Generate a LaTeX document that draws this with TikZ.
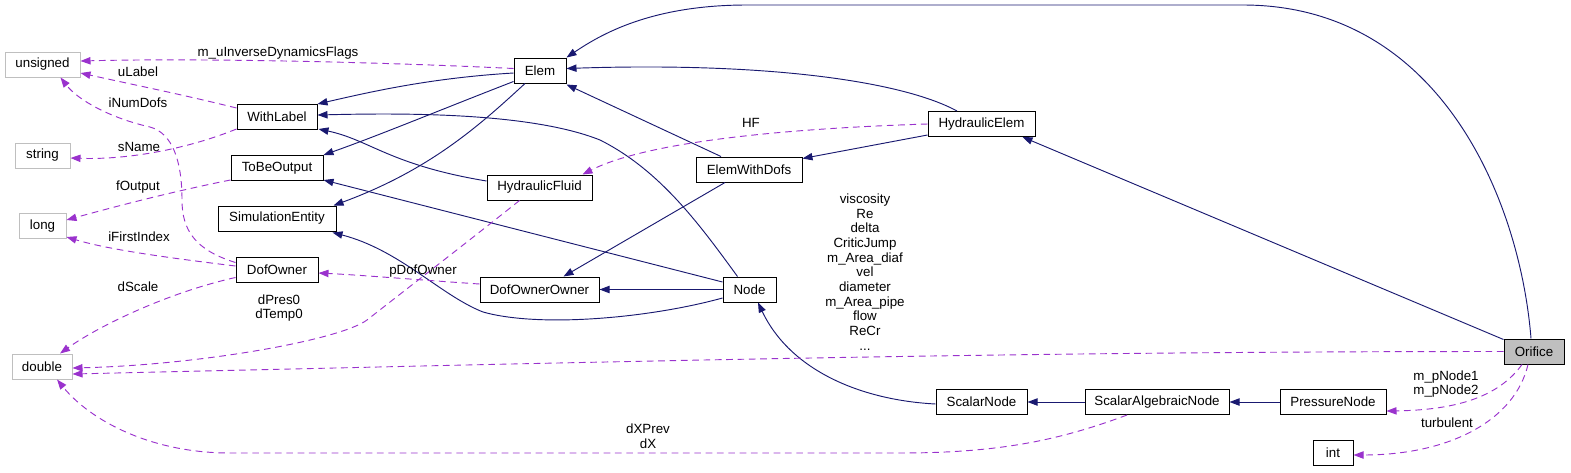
\documentclass[tikz,border=0pt]{standalone}
\usepackage{fontspec}
\setmainfont{Liberation Sans}
\usetikzlibrary{calc}
\usetikzlibrary{arrows.meta}
\definecolor{color_dox_inherit}{HTML}{191970}
\definecolor{color_dox_usage}{HTML}{9A32CD}
\definecolor{color_dox_builtin}{HTML}{BFBFBF}
\def\reservedspace{\useasboundingbox (0,0) rectangle (1571,472);}

\begin{document}
\begin{tikzpicture}[x=0.75pt, y=-0.75pt,
        font=\fontsize{10}{11}\selectfont,
        classbox/.style={rectangle, draw=black, line width=0.75pt, minimum height=18.75pt, inner xsep=2pt, inner ysep=0pt, fill=white},
        builtinbox/.style={classbox, draw=color_dox_builtin},
        inherit/.style={color_dox_inherit, line width=0.7pt, -{Triangle[length=7.5pt,width=5.5pt]}},
        usage/.style={color_dox_usage, line width=0.7pt, dash pattern=on 5pt off 3.5pt, -{Triangle[length=7.5pt,width=5.5pt]}},
        edgelabel/.style={align=center, inner sep=0pt}]
            \reservedspace
            % builtin types
            \node[builtinbox, minimum width=56.25pt] (unsigned) at (42.5,64.5) {unsigned};
            \node[builtinbox, minimum width=41.25pt] (string) at (42.5,155.5) {string};
            \node[builtinbox, minimum width=35.25pt] (long) at (42.5,226) {long};
            \node[builtinbox, minimum width=45pt] (double) at (42,366.5) {double};
            % classes
            \node[classbox, minimum width=60pt] (withlabel) at (277,117) {WithLabel};
            \node[classbox, minimum width=69pt] (tobeoutput) at (277,168) {ToBeOutput};
            \node[classbox, minimum width=88.5pt] (simentity) at (277,218.5) {SimulationEntity};
            \node[classbox, minimum width=61.5pt] (dofowner) at (277,269.5) {DofOwner};
            \node[classbox, minimum width=39pt] (elem) at (540,70.5) {Elem};
            \node[classbox, minimum width=78.75pt] (hydfluid) at (539.5,187.5) {HydraulicFluid};
            \node[classbox, minimum width=79.5pt] (elemdofs) at (749,169.5) {ElemWithDofs};
            \node[classbox, minimum width=89.25pt] (dofownerowner) at (539.5,289.5) {DofOwnerOwner};
            \node[classbox, minimum width=39.75pt] (nodeclass) at (749.5,289.5) {Node};
            \node[classbox, minimum width=80.25pt] (hydelem) at (981.5,124) {HydraulicElem};
            \node[classbox, minimum width=68.25pt] (scalarnode) at (981.5,402) {ScalarNode};
            \node[classbox, minimum width=108pt] (scalaralg) at (1157,402) {ScalarAlgebraicNode};
            \node[classbox, minimum width=79.5pt] (pressurenode) at (1333,402) {PressureNode};
            \node[classbox, minimum width=30pt] (inttype) at (1333,453) {int};
            \node[classbox, minimum width=45pt, fill=color_dox_builtin] (orifice) at (1534,351.5) {Orifice};
            % inheritance
            \draw[inherit] ($(elem.west)+(0,2.5)$) .. controls (430,78) and (370,92) .. (withlabel.north east);
            \draw[inherit] ($(elem.south west)+(0,-2)$) .. controls (440,110) and (380,135) .. (tobeoutput.north east);
            \draw[inherit] ($(elem.south)+(-15,0)$) .. controls (480,125) and (430,170) .. ($(simentity.north east)+(-3,0)$);
            \draw[inherit] ($(hydfluid.west)+(0,-6.5)$) .. controls (390,165) and (370,140) .. ($(withlabel.south east)+(1,-1)$);
            \draw[inherit] ($(nodeclass.north)+(-12,0)$) .. controls (700,225) and (660,170) .. (600,140)
                .. controls (530,112) and (400,113) .. ($(withlabel.east)+(0,-2)$);
            \draw[inherit] ($(nodeclass.west)+(0,-7.5)$) -- ($(tobeoutput.south east)+(0,-1)$);
            \draw[inherit] ($(nodeclass.west)+(0,8.5)$) .. controls (650,318) and (540,328) .. (483,312)
                .. controls (440,295) and (400,250) .. ($(simentity.south east)+(-4,1)$);
            \draw[inherit] (nodeclass.west) -- (dofownerowner.east);
            \draw[inherit] ($(elemdofs.north)+(-28,0)$) -- ($(elem.south east)+(0,1)$);
            \draw[inherit] ($(elemdofs.south)+(-24,0)$) -- ($(dofownerowner.north)+(24,0)$);
            \draw[inherit] ($(hydelem.north)+(-24.5,0)$) .. controls (900,80) and (760,62) .. ($(elem.east)+(0,-2)$);
            \draw[inherit] ($(hydelem.west)+(0,11)$) -- ($(elemdofs.east)+(0,-11)$);
            \draw[inherit] ($(orifice.north)+(-3,0)$) .. controls (1520,200) and (1440,5) .. (1243,5)
                -- (747,5) .. controls (650,5) and (600,35) .. (elem.north east);
            \draw[inherit] ($(orifice.north west)+(0,1)$) -- ($(hydelem.south east)+(-13,0)$);
            \draw[inherit] ($(scalarnode.west)+(0,2)$) .. controls (860,400) and (790,370) .. ($(nodeclass.south)+(8.5,0)$);
            \draw[inherit] (scalaralg.west) -- (scalarnode.east);
            \draw[inherit] (pressurenode.west) -- (scalaralg.east);
            % usage
            \draw[usage] ($(elem.west)+(0,-2)$) .. controls (380,62) and (200,58) .. ($(unsigned.east)+(0,-3.5)$);
            \draw[usage] ($(withlabel.north west)+(0,4)$) .. controls (180,94) and (130,84) .. ($(unsigned.east)+(0,8.5)$);
            \draw[usage] ($(withlabel.south west)+(0,-1)$) .. controls (190,148) and (130,160) .. ($(string.east)+(0,2.5)$);
            \draw[usage] ($(tobeoutput.south west)+(0,-1)$) .. controls (170,192) and (110,208) .. ($(long.east)+(0,-6)$);
            \draw[usage] ($(dofowner.west)+(0,-7)$) .. controls (195,250) and (182,230) .. (182,200)
                .. controls (182,160) and (172,133) .. (150,127)
                .. controls (110,118) and (78,100) .. ($(unsigned.south)+(18,0)$);
            \draw[usage] ($(dofowner.west)+(0,-3.5)$) .. controls (170,258) and (110,250) .. ($(long.east)+(0,11)$);
            \draw[usage] ($(dofowner.south west)+(0,-5)$) .. controls (170,292) and (100,325) .. ($(double.north)+(18,0)$);
            \draw[usage] ($(dofownerowner.west)+(0,-5.5)$) .. controls (420,280) and (360,275) .. ($(dofowner.east)+(0,3.5)$);
            \draw[usage] ($(hydfluid.south)+(-20,0)$) .. controls (470,240) and (395,298) .. (367,320)
                .. controls (340,340) and (200,365) .. ($(double.east)+(0,1.5)$);
            \draw[usage] (hydelem.west) .. controls (800,128) and (650,140) .. ($(hydfluid.north east)+(-10,0)$);
            \draw[usage] (orifice.west) .. controls (1000,351.5) and (600,362) .. ($(double.east)+(0,7.5)$);
            \draw[usage] ($(scalaralg.south)+(-30,0)$) .. controls (1060,440) and (1000,453) .. (900,453)
                -- (230,453) .. controls (150,453) and (90,420) .. ($(double.south)+(15,0)$);
            \draw[usage] ($(orifice.south)+(-12,0)$) .. controls (1500,395) and (1460,410) .. ($(pressurenode.east)+(0,9)$);
            \draw[usage] ($(orifice.south)+(-6,0)$) .. controls (1515,420) and (1450,455) .. ($(inttype.east)+(0,2)$);
            % member names
            \node[edgelabel] (lflags) at (278,53) {m\_uInverseDynamicsFlags};
            \node[edgelabel] (lulabel) at (138,72) {uLabel};
            \node[edgelabel] (lnumdofs) at (138,103) {iNumDofs};
            \node[edgelabel] (lsname) at (139,147) {sName};
            \node[edgelabel] (lfoutput) at (138,187) {fOutput};
            \node[edgelabel] (lfirstindex) at (139,237) {iFirstIndex};
            \node[edgelabel] (ldscale) at (138,287) {dScale};
            \node[edgelabel] (lpres) at (279,308) {dPres0\\dTemp0};
            \node[edgelabel] (lpdofowner) at (423,271) {pDofOwner};
            \node[edgelabel] (lhf) at (751,123) {HF};
            \node[edgelabel] (lorifice) at (865,272) {viscosity\\Re\\delta\\CriticJump\\m\_Area\_diaf\\vel\\diameter\\m\_Area\_pipe\\flow\\ReCr\\...};
            \node[edgelabel] (ldx) at (648,436) {dXPrev\\dX};
            \node[edgelabel] (lpnode) at (1446,384) {m\_pNode1\\m\_pNode2};
            \node[edgelabel] (lturbulent) at (1447,423) {turbulent};
        \end{tikzpicture}
\end{document}
